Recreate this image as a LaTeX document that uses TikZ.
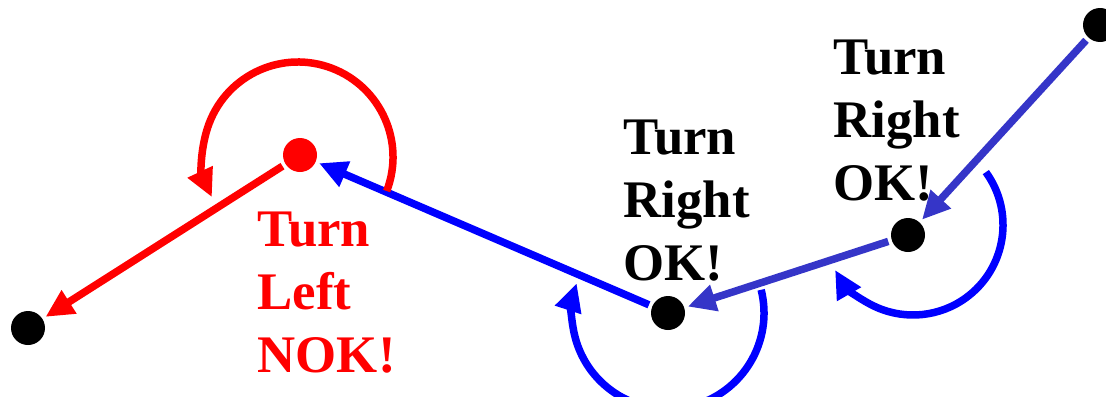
\documentclass[tikz,border=0pt]{standalone}
\usepackage{fontspec}
\setmainfont{Liberation Serif}
\usetikzlibrary{arrows.meta}
\definecolor{slateblu}{RGB}{53,53,200}
\begin{document}
\begin{tikzpicture}[x=0.5pt, y=-0.5pt, line width=3.75pt,
  pt/.style={circle, fill=black, inner sep=0pt, minimum size=17pt},
  arr/.style={-{Triangle[length=14pt, width=13pt]}},
  lbl/.style={anchor=base west, inner sep=0pt, align=left,
    font=\fontsize{26.4}{31.5}\selectfont\bfseries}]
  \useasboundingbox (0,0) rectangle (1106,396);

  % body
  \node[pt] (a) at (28,328) {};
  \node[pt, fill=red] (b) at (300,155) {};
  \node[pt] (c) at (668,313) {};
  \node[pt] (d) at (908,235) {};
  \node[pt] (e) at (1100,25) {};

  % useky
  \draw[arr, slateblu] (e) -- (d);
  \draw[arr, slateblu] (d) -- (c);
  \draw[arr, blue] (c) -- (b);
  \draw[arr, red] (b) -- (a);

  % otocenia
  \draw[arr, red] (298,157) ++(21:95) arc[start angle=21, end angle=-205, radius=95];
  \draw[arr, blue] (c) ++(-14:96) arc[start angle=-14, end angle=198, radius=96];
  \draw[arr, blue] (913,225) ++(-36:90) arc[start angle=-36, end angle=150, radius=90];

  % popisky (base = posledny riadok)
  \node[lbl, red] (lblleft) at (254,372) {Turn\\Left\\NOK!};
  \node[lbl] (lblrighta) at (620,280) {Turn\\Right\\OK!};
  \node[lbl] (lblrightb) at (830,200) {Turn\\Right\\OK!};
\end{tikzpicture}
\end{document}
